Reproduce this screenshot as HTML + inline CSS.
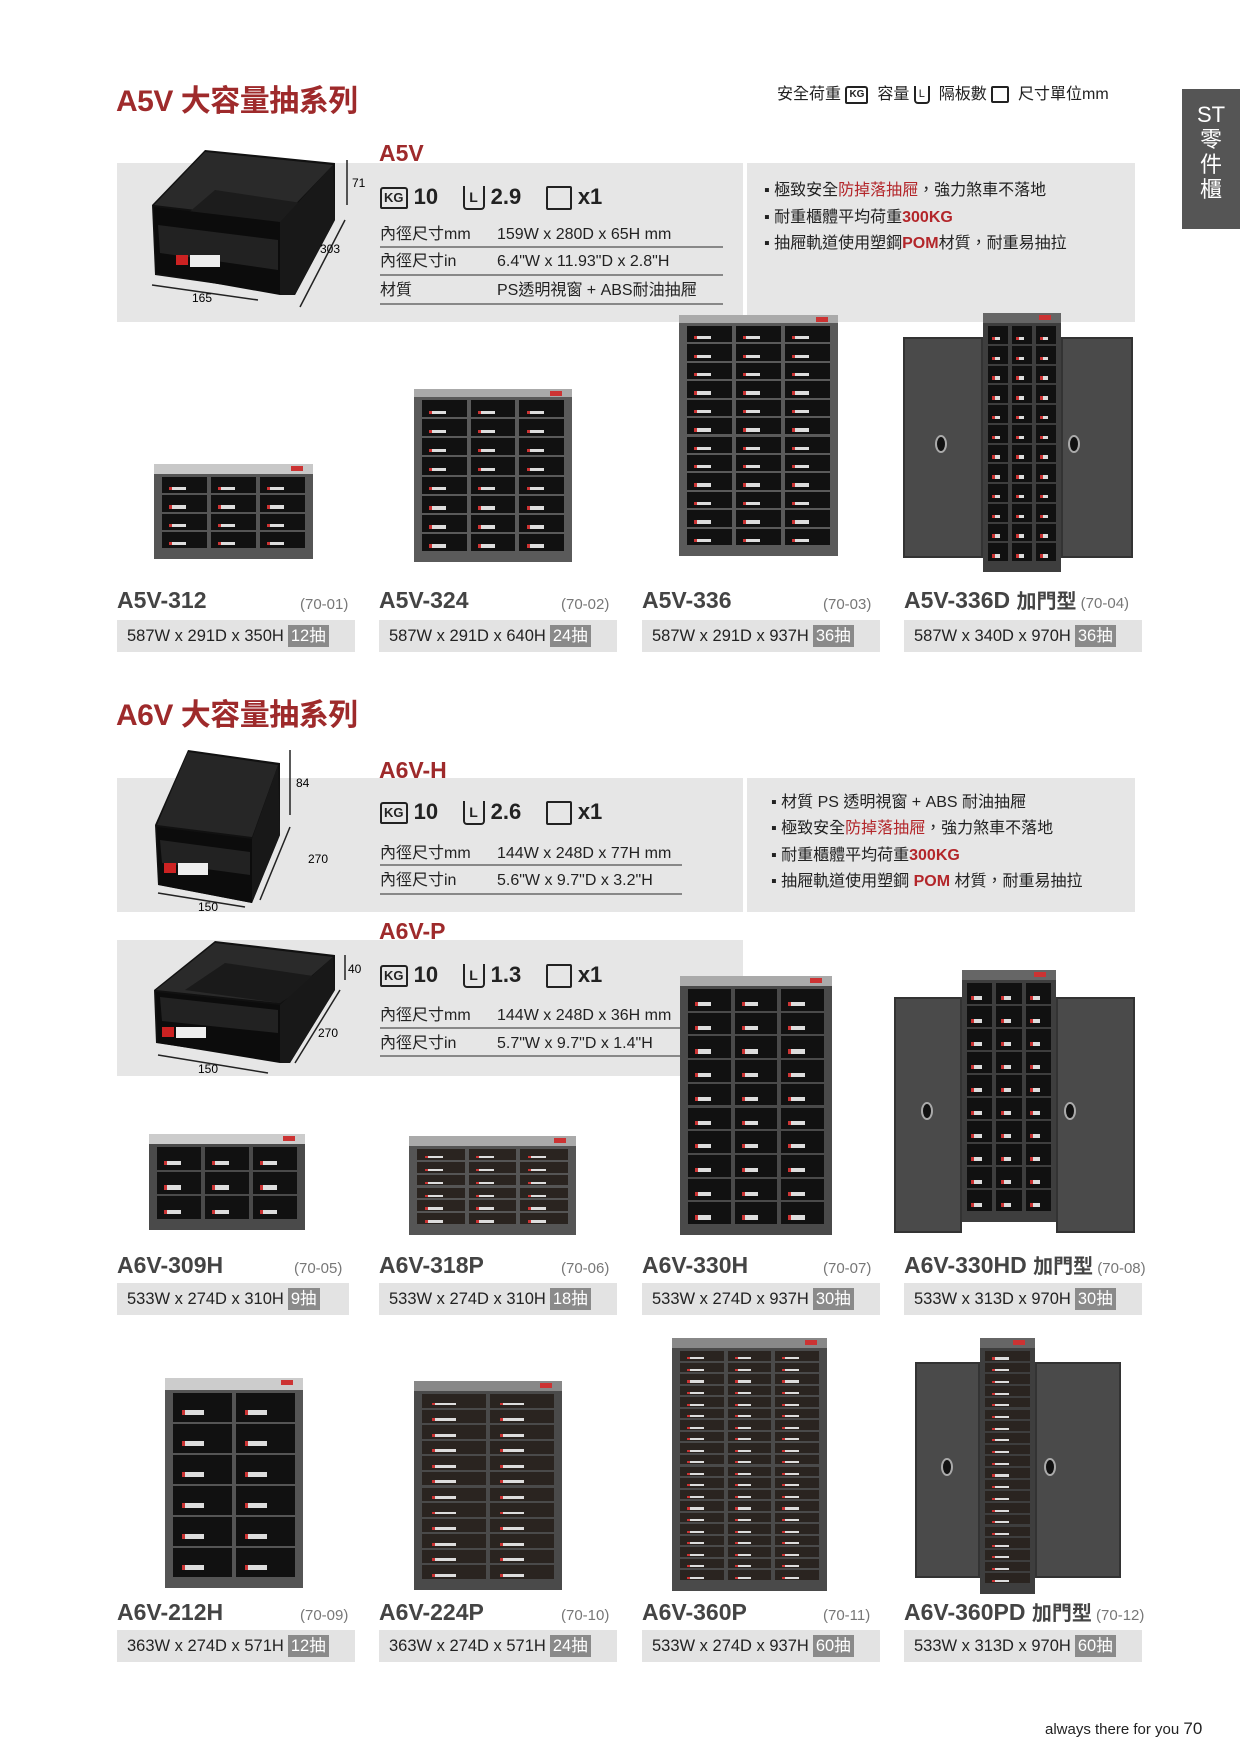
<!DOCTYPE html>
<html><head><meta charset="utf-8">
<style>
*{margin:0;padding:0;box-sizing:border-box}
body{width:1240px;height:1754px;background:#fff;position:relative;overflow:hidden;font-family:"Liberation Sans","Noto Sans CJK TC",sans-serif;color:#222}
.a{position:absolute;white-space:nowrap;line-height:1.2}
.title{font-size:30px;font-weight:bold;color:#9e2a2b;letter-spacing:-0.5px}
.sub{font-size:23px;font-weight:bold;color:#9e2a2b}
.gbox{position:absolute;background:#e6e6e6}
.spec{font-size:16px;color:#222;line-height:20px}
.line{position:absolute;height:2px;background:#888}
.bul{font-size:16px;color:#222}
.red{color:#b3262a;font-weight:bold}
.rr{color:#b3262a}
.pn{font-size:23px;font-weight:bold;color:#444}
.pc{font-size:15px;color:#777}
.pb{position:absolute;background:#e3e3e3;height:32px;font-size:16.5px;line-height:32px;padding-left:10px;color:#222}
.tag{display:inline-block;background:#8a8a8a;color:#fff;padding:0 3px;line-height:22px;margin-left:4px}
.ico{font-size:22px;font-weight:bold;color:#222}
.kg{display:inline-block;border:2px solid #222;font-size:13px;font-weight:bold;padding:1px 2px;border-radius:3px 3px 2px 2px;vertical-align:middle}
.lb{display:inline-block;border:2px solid #222;border-top:none;width:22px;height:24px;font-size:14px;text-align:center;line-height:22px;vertical-align:middle;border-radius:0 0 4px 4px}
.sq{display:inline-block;border:2px solid #222;width:26px;height:24px;vertical-align:middle;border-radius:2px}
.cab{position:absolute}
#cabs{position:absolute;left:0;top:0;z-index:5}
</style></head><body>

<div class="a title" style="left:116px;top:84px">A5V 大容量抽系列</div>
<div class="a" style="left:777px;top:85px;font-size:16px">安全荷重 <span class="kg" style="font-size:10px">KG</span>&nbsp; 容量 <span class="lb" style="width:16px;height:18px;font-size:11px;line-height:16px">L</span>&nbsp; 隔板數 <span class="sq" style="width:18px;height:17px"></span>&nbsp; 尺寸單位mm</div>
<div class="a" style="left:1182px;top:89px;width:58px;height:140px;background:#555"></div>
<div class="a" style="left:1196px;top:102px;color:#fff;font-size:22px;line-height:25px;text-align:center;width:30px;white-space:normal">ST<br>零<br>件<br>櫃</div>

<!-- A5V box -->
<div class="gbox" style="left:117px;top:163px;width:626px;height:159px"></div>
<div class="gbox" style="left:747px;top:163px;width:388px;height:159px"></div>
<div class="a sub" style="left:379px;top:140px">A5V</div>
<div class="a ico" style="left:380px;top:184px"><span class="kg">KG</span> 10 &nbsp;&nbsp; <span class="lb">L</span> 2.9 &nbsp;&nbsp; <span class="sq"></span> x1</div>
<div class="a spec" style="left:380px;top:225px">內徑尺寸mm</div><div class="a spec" style="left:497px;top:225px">159W x 280D x 65H mm</div>
<div class="line" style="left:380px;top:246px;width:343px"></div>
<div class="a spec" style="left:380px;top:252px">內徑尺寸in</div><div class="a spec" style="left:497px;top:252px">6.4"W x 11.93"D x 2.8"H</div>
<div class="line" style="left:380px;top:274px;width:343px"></div>
<div class="a spec" style="left:380px;top:281px">材質</div><div class="a spec" style="left:497px;top:281px">PS透明視窗 + ABS耐油抽屜</div>
<div class="line" style="left:380px;top:303px;width:343px"></div>
<div class="a bul" style="left:764px;top:181px">▪ 極致安全<span class="rr">防掉落抽屜</span>，強力煞車不落地</div>
<div class="a bul" style="left:764px;top:208px">▪ 耐重櫃體平均荷重<span class="red">300KG</span></div>
<div class="a bul" style="left:764px;top:234px">▪ 抽屜軌道使用塑鋼<span class="red">POM</span>材質，耐重易抽拉</div>

<svg class="a" style="left:140px;top:145px" width="240" height="170">
<!-- outer -->
<polygon points="12,60 65,5 195,18 195,75 155,150 15,130" fill="#111"/>
<!-- interior opening -->
<polygon points="14,60 65,7 193,20 140,75" fill="#2a2a2a"/>
<polygon points="40,75 75,45 175,60 140,90" fill="#1c1c1c"/>
<!-- front face -->
<polygon points="14,62 140,77 140,150 16,128" fill="#0c0c0c"/>
<polygon points="18,80 138,95 138,125 20,108" fill="#222"/>
<polygon points="140,77 193,20 195,75 155,150 140,150" fill="#181818"/>
<rect x="36" y="110" width="12" height="10" fill="#c22"/><rect x="50" y="110" width="30" height="12" fill="#eee"/>
<line x1="207" y1="15" x2="207" y2="60" stroke="#222" stroke-width="1.5"/>
<line x1="205" y1="75" x2="160" y2="162" stroke="#222" stroke-width="1.5"/>
<line x1="12" y1="140" x2="118" y2="155" stroke="#222" stroke-width="1.5"/>
<text x="212" y="42" font-size="12" font-family="Liberation Sans">71</text>
<text x="180" y="108" font-size="12" font-family="Liberation Sans">303</text>
<text x="52" y="157" font-size="12" font-family="Liberation Sans">165</text>
</svg>

<div class="a pn" style="left:117px;top:587px">A5V-312</div><div class="a pc" style="left:300px;top:596px">(70-01)</div>
<div class="pb" style="left:117px;top:620px;width:238px">587W x 291D x 350H<span class="tag">12抽</span></div>
<div class="a pn" style="left:379px;top:587px">A5V-324</div><div class="a pc" style="left:561px;top:596px">(70-02)</div>
<div class="pb" style="left:379px;top:620px;width:238px">587W x 291D x 640H<span class="tag">24抽</span></div>
<div class="a pn" style="left:642px;top:587px">A5V-336</div><div class="a pc" style="left:823px;top:596px">(70-03)</div>
<div class="pb" style="left:642px;top:620px;width:238px">587W x 291D x 937H<span class="tag">36抽</span></div>
<div class="a pn" style="left:904px;top:587px">A5V-336D <span style="font-size:20px">加門型</span><span class="pc" style="font-weight:normal"> (70-04)</span></div>
<div class="pb" style="left:904px;top:620px;width:238px">587W x 340D x 970H<span class="tag">36抽</span></div>

<!-- A6V -->
<div class="a title" style="left:116px;top:698px">A6V 大容量抽系列</div>
<div class="gbox" style="left:117px;top:778px;width:626px;height:134px"></div>
<div class="gbox" style="left:747px;top:778px;width:388px;height:134px"></div>
<div class="a sub" style="left:379px;top:757px">A6V-H</div>
<div class="a ico" style="left:380px;top:799px"><span class="kg">KG</span> 10 &nbsp;&nbsp; <span class="lb">L</span> 2.6 &nbsp;&nbsp; <span class="sq"></span> x1</div>
<div class="a spec" style="left:380px;top:844px">內徑尺寸mm</div><div class="a spec" style="left:497px;top:844px">144W x 248D x 77H mm</div>
<div class="line" style="left:380px;top:864px;width:302px"></div>
<div class="a spec" style="left:380px;top:871px">內徑尺寸in</div><div class="a spec" style="left:497px;top:871px">5.6"W x 9.7"D x 3.2"H</div>
<div class="line" style="left:380px;top:893px;width:302px"></div>
<div class="a bul" style="left:771px;top:793px">▪ 材質 PS 透明視窗 + ABS 耐油抽屜</div>
<div class="a bul" style="left:771px;top:819px">▪ 極致安全<span class="rr">防掉落抽屜</span>，強力煞車不落地</div>
<div class="a bul" style="left:771px;top:846px">▪ 耐重櫃體平均荷重<span class="red">300KG</span></div>
<div class="a bul" style="left:771px;top:872px">▪ 抽屜軌道使用塑鋼 <span class="red">POM</span> 材質，耐重易抽拉</div>

<svg class="a" style="left:140px;top:745px" width="240" height="170">
<polygon points="15,80 48,5 140,18 140,90 112,158 18,140" fill="#111"/>
<polygon points="17,80 48,7 138,20 112,92" fill="#262626"/>
<polygon points="17,82 112,94 112,158 19,140" fill="#0c0c0c"/>
<polygon points="20,95 110,107 110,130 22,118" fill="#222"/>
<polygon points="112,94 138,20 140,90 112,158" fill="#181818"/>
<rect x="24" y="118" width="12" height="10" fill="#c22"/><rect x="38" y="118" width="30" height="12" fill="#eee"/>
<line x1="150" y1="5" x2="150" y2="70" stroke="#222" stroke-width="1.5"/>
<line x1="150" y1="82" x2="120" y2="155" stroke="#222" stroke-width="1.5"/>
<line x1="18" y1="148" x2="105" y2="162" stroke="#222" stroke-width="1.5"/>
<text x="156" y="42" font-size="12" font-family="Liberation Sans">84</text>
<text x="168" y="118" font-size="12" font-family="Liberation Sans">270</text>
<text x="58" y="166" font-size="12" font-family="Liberation Sans">150</text>
</svg>

<div class="gbox" style="left:117px;top:940px;width:626px;height:136px"></div>
<div class="a sub" style="left:379px;top:918px">A6V-P</div>
<div class="a ico" style="left:380px;top:962px"><span class="kg">KG</span> 10 &nbsp;&nbsp; <span class="lb">L</span> 1.3 &nbsp;&nbsp; <span class="sq"></span> x1</div>
<div class="a spec" style="left:380px;top:1006px">內徑尺寸mm</div><div class="a spec" style="left:497px;top:1006px">144W x 248D x 36H mm</div>
<div class="line" style="left:380px;top:1027px;width:302px"></div>
<div class="a spec" style="left:380px;top:1034px">內徑尺寸in</div><div class="a spec" style="left:497px;top:1034px">5.7"W x 9.7"D x 1.4"H</div>
<div class="line" style="left:380px;top:1055px;width:302px"></div>
<svg class="a" style="left:140px;top:935px" width="240" height="140">
<polygon points="14,55 75,6 195,20 195,55 150,128 16,108" fill="#111"/>
<polygon points="16,55 75,8 193,22 140,68" fill="#2a2a2a"/>
<polygon points="45,55 85,28 180,42 140,68" fill="#1a1a1a"/>
<polygon points="16,57 140,70 140,128 18,108" fill="#0c0c0c"/>
<polygon points="20,62 138,75 138,98 22,86" fill="#222"/>
<polygon points="140,70 193,22 195,55 150,128 140,128" fill="#181818"/>
<rect x="22" y="92" width="12" height="10" fill="#c22"/><rect x="36" y="92" width="30" height="11" fill="#eee"/>
<line x1="205" y1="20" x2="205" y2="45" stroke="#222" stroke-width="1.5"/>
<line x1="200" y1="55" x2="155" y2="128" stroke="#222" stroke-width="1.5"/>
<line x1="18" y1="120" x2="128" y2="138" stroke="#222" stroke-width="1.5"/>
<text x="208" y="38" font-size="12" font-family="Liberation Sans">40</text>
<text x="178" y="102" font-size="12" font-family="Liberation Sans">270</text>
<text x="58" y="138" font-size="12" font-family="Liberation Sans">150</text>
</svg>

<div class="a pn" style="left:117px;top:1252px">A6V-309H</div><div class="a pc" style="left:294px;top:1260px">(70-05)</div>
<div class="pb" style="left:117px;top:1283px;width:232px">533W x 274D x 310H<span class="tag">9抽</span></div>
<div class="a pn" style="left:379px;top:1252px">A6V-318P</div><div class="a pc" style="left:561px;top:1260px">(70-06)</div>
<div class="pb" style="left:379px;top:1283px;width:238px">533W x 274D x 310H<span class="tag">18抽</span></div>
<div class="a pn" style="left:642px;top:1252px">A6V-330H</div><div class="a pc" style="left:823px;top:1260px">(70-07)</div>
<div class="pb" style="left:642px;top:1283px;width:238px">533W x 274D x 937H<span class="tag">30抽</span></div>
<div class="a pn" style="left:904px;top:1252px">A6V-330HD <span style="font-size:20px">加門型</span><span class="pc" style="font-weight:normal"> (70-08)</span></div>
<div class="pb" style="left:904px;top:1283px;width:238px">533W x 313D x 970H<span class="tag">30抽</span></div>

<div class="a pn" style="left:117px;top:1599px">A6V-212H</div><div class="a pc" style="left:300px;top:1607px">(70-09)</div>
<div class="pb" style="left:117px;top:1630px;width:238px">363W x 274D x 571H<span class="tag">12抽</span></div>
<div class="a pn" style="left:379px;top:1599px">A6V-224P</div><div class="a pc" style="left:561px;top:1607px">(70-10)</div>
<div class="pb" style="left:379px;top:1630px;width:238px">363W x 274D x 571H<span class="tag">24抽</span></div>
<div class="a pn" style="left:642px;top:1599px">A6V-360P</div><div class="a pc" style="left:823px;top:1607px">(70-11)</div>
<div class="pb" style="left:642px;top:1630px;width:238px">533W x 274D x 937H<span class="tag">60抽</span></div>
<div class="a pn" style="left:904px;top:1599px">A6V-360PD <span style="font-size:20px">加門型</span><span class="pc" style="font-weight:normal"> (70-12)</span></div>
<div class="pb" style="left:904px;top:1630px;width:238px">533W x 313D x 970H<span class="tag">60抽</span></div>

<div class="a" style="left:1045px;top:1719px;font-size:15px;color:#222">always there for you <span style="font-size:17px">70</span></div>

<div id="cabs"></div>
<script>
var C=document.getElementById('cabs');
function cab(x,y,w,h,cols,rows,frame,opt){
  opt=opt||{};
  var d=document.createElement('div');d.className='cab';
  d.style.cssText='left:'+x+'px;top:'+y+'px;width:'+w+'px;height:'+h+'px;background:'+frame+';';
  C.appendChild(d);
  var top=opt.top||12, side=opt.side||6, bot=opt.bot||10;
  var ix=side, iw=w-2*side, ih=h-top-bot;
  var tp=document.createElement('div');tp.className='cab';
  tp.style.cssText='left:0;top:0;width:'+w+'px;height:'+(top-2)+'px;background:'+(opt.topc||'#aaa');
  d.appendChild(tp);
  var cw=iw/cols, rh=ih/rows;
  for(var c=0;c<cols;c++)for(var r=0;r<rows;r++){
    var e=document.createElement('div');e.className='cab';
    e.style.cssText='left:'+(ix+c*cw+2)+'px;top:'+(top+r*rh+1)+'px;width:'+(cw-4)+'px;height:'+(rh-2)+'px;background:'+(opt.dc||'#111')+';';
    var l=document.createElement('div');l.className='cab';
    var lw=Math.max(6,cw*0.35);
    l.style.cssText='left:'+(cw*0.15)+'px;top:'+(rh*0.55)+'px;width:'+lw+'px;height:'+Math.max(2,Math.min(5,rh*0.18))+'px;background:#ddd;border-left:3px solid #c33';
    e.appendChild(l);d.appendChild(e);
  }
  var b=document.createElement('div');b.className='cab';
  b.style.cssText='left:'+(w-22)+'px;top:2px;width:12px;height:5px;background:#c33';d.appendChild(b);
}
function doors(x,y,w,h,cx,cw){
  var L=document.createElement('div');L.className='cab';
  L.style.cssText='left:'+x+'px;top:'+(y+12)+'px;width:'+(cx-x)+'px;height:'+(h-24)+'px;background:#4a4a4a;border:2px solid #333';
  C.appendChild(L);
  var R=document.createElement('div');R.className='cab';
  R.style.cssText='left:'+(cx+cw)+'px;top:'+(y+12)+'px;width:'+(x+w-cx-cw)+'px;height:'+(h-24)+'px;background:#4a4a4a;border:2px solid #333';
  C.appendChild(R);
  [[x+(cx-x)*0.4],[cx+cw+(x+w-cx-cw)*0.1]].forEach(function(p){
    var k=document.createElement('div');k.className='cab';
    k.style.cssText='left:'+p[0]+'px;top:'+(y+h*0.45)+'px;width:12px;height:18px;border-radius:50%;background:#111;border:2px solid #aaa';C.appendChild(k);
  });
}
cab(154,464,159,95,3,4,'#555',{top:12,topc:'#c8c8c8'});
cab(414,389,158,173,3,8,'#5a5a5a',{top:10,topc:'#aaa'});
cab(679,315,159,241,3,12,'#5a5a5a',{top:10,topc:'#aaa'});
doors(903,325,230,245,983,78);
cab(983,313,78,259,3,12,'#3e3e3e',{top:12,side:3,topc:'#666'});
cab(149,1134,156,96,3,3,'#4a4a4a',{top:12,topc:'#ccc'});
cab(409,1136,167,99,3,6,'#555',{top:12,topc:'#aaa',dc:'#2a2420'});
cab(680,976,152,259,3,10,'#4a4a4a',{top:12,topc:'#aaa'});
doors(894,985,241,260,962,94);
cab(962,970,94,252,3,10,'#3e3e3e',{top:12,side:3,topc:'#666'});
cab(165,1378,138,210,2,6,'#555',{top:14,topc:'#ccc'});
cab(414,1381,148,209,2,12,'#4a4a4a',{top:12,topc:'#888',dc:'#2a2420'});
cab(672,1338,155,253,3,20,'#4a4a4a',{top:12,topc:'#888',dc:'#2a2420'});
doors(915,1350,206,240,980,55);
cab(980,1338,55,256,1,20,'#3e3e3e',{top:12,side:3,topc:'#666',dc:'#2a2420'});
</script>
</body></html>
